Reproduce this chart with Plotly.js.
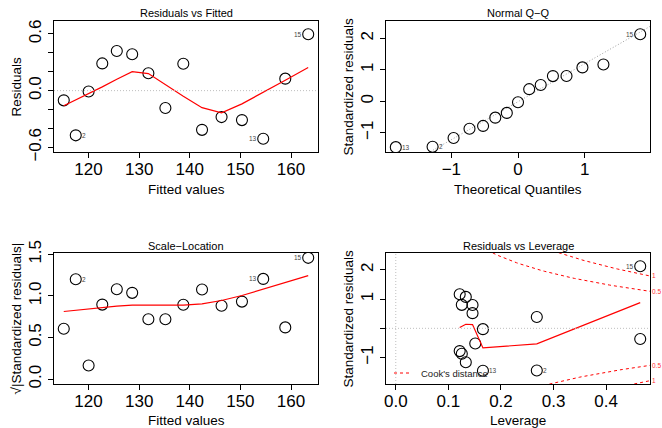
<!DOCTYPE html>
<html><head><meta charset="utf-8">
<script src="https://cdn.plot.ly/plotly-3.0.1.min.js"></script>
<style>body{margin:0;background:#fff}#plot{width:662px;height:428px}</style>
</head><body><div id="plot"></div>
<script>
// ---- data (lm(weight ~ height + I(height^2)), women) ----
const obsId = [1,2,3,4,5,6,7,8,9,10,11,12,13,14,15];
const fitted = [115.10,117.47,120.01,122.71,125.58,128.62,131.82,135.18,138.72,142.42,146.28,150.31,154.51,158.87,163.40];
const residuals = [-0.103,-0.473,-0.009,0.288,0.420,0.385,0.184,-0.183,0.284,-0.415,-0.280,-0.312,-0.509,0.127,0.597];
const stdResid = [-0.366,-1.440,-0.027,0.803,1.166,1.076,0.519,-0.517,0.800,-1.161,-0.779,-0.868,-1.452,0.386,2.125];
const sqrtAbsStdResid = [0.605,1.200,0.164,0.896,1.080,1.037,0.720,0.719,0.895,1.077,0.883,0.932,1.205,0.622,1.458];
const theoQuantiles = [-0.168,-1.282,0,0.728,1.282,0.967,0.341,-0.341,0.524,-0.967,-0.524,-0.728,-1.834,0.168,1.834];
const leverage = [0.4647,0.2681,0.1657,0.1255,0.1215,0.1331,0.1459,0.1511,0.1459,0.1331,0.1215,0.1255,0.1657,0.2681,0.4647];
// red smoothers
const smoothResid = [-0.16,-0.10,-0.03,0.04,0.12,0.20,0.18,0.06,-0.06,-0.18,-0.235,-0.14,-0.02,0.11,0.245];
const smoothScale = [0.813,0.829,0.845,0.861,0.877,0.889,0.887,0.887,0.889,0.905,0.945,1.005,1.085,1.166,1.245];
const smoothLevX = [0.1215,0.1255,0.1331,0.1459,0.1511,0.1657,0.2681,0.4647];
const smoothLevY = [0.03,0.07,0.14,0.13,-0.08,-0.67,-0.53,0.88];
const labelledObs = [2,13,15];
const nParams = 3;
const cookLevels = [0.5, 1];

// tick labels
const ticks1 = [-0.6,-0.4,-0.2,0,0.2,0.4,0.6];
const tickText1 = ["\u22120.6","","","0.0","","","0.6"];
const ticksFit = [120,130,140,150,160];
const ticksQQx = [-1,0,1];
const ticksQQy = [-1,0,1,2];
const tickTextQQy = ["\u22121","0","1","2"];
const ticksQQxText = ["\u22121","0","1"];
const ticksSL = [0,0.5,1,1.5];
const tickTextSL = ["0.0","0.5","1.0","1.5"];
const ticksLevX = [0,0.1,0.2,0.3,0.4];
const tickTextLevX = ["0.0","0.1","0.2","0.3","0.4"];
const ticksLevY = [-1,0,1,2];
const tickTextLevY = ["\u22121","","1","2"];

// ---- layout geometry ----
const W = 662, H = 428;
const FONT = "Liberation Sans, Arial, Helvetica, sans-serif";
const px = v => v / W, py = v => 1 - v / H;
const xDomL = [px(54), px(318)], xDomR = [px(386), px(650)];
const yDomT = [py(152), py(21)], yDomB = [py(384), py(253)];

const ranges = {
  x1: [113.171, 165.335], y1: [-0.6494, 0.7369],
  x2: [-1.981, 1.981],   y2: [-1.606, 2.547],
  x3: [113.171, 165.335], y3: [-0.0583, 1.5161],
  x4: [-0.0186, 0.4833], y4: [-1.904, 2.577]
};

function axis(dom, rng, vals, text, isY) {
  return {
    domain: dom, range: rng, autorange: false,
    showline: true, mirror: true, linecolor: "#000", linewidth: 1,
    ticks: "outside", ticklen: 5, tickwidth: 1, tickcolor: "#000",
    tickvals: vals, ticktext: text,
    tickfont: {family: FONT, size: 17, color: "#000"},
    tickangle: isY ? -90 : 0,
    ticklabelstandoff: isY ? 0 : -3,
    showgrid: false, zeroline: false, fixedrange: true
  };
}

const pointStyle = {symbol: "circle-open", size: 11, color: "#000", line: {width: 1.1, color: "#000"}};
const redLine = {color: "#FF0000", width: 1.2};

const traces = [];
// Panel 1
traces.push({x: fitted, y: residuals, mode: "markers", type: "scatter", marker: pointStyle, xaxis: "x", yaxis: "y", hoverinfo: "skip"});
traces.push({x: fitted, y: smoothResid, mode: "lines", type: "scatter", line: redLine, xaxis: "x", yaxis: "y", hoverinfo: "skip"});
// Panel 2: QQ
function quantile7(arr, p) {
  const s = arr.slice().sort((a, b) => a - b);
  const h = (s.length - 1) * p, lo = Math.floor(h);
  return s[lo] + (h - lo) * (s[Math.min(lo + 1, s.length - 1)] - s[lo]);
}
const sq1 = quantile7(stdResid, 0.25), sq3 = quantile7(stdResid, 0.75);
const slope = (sq3 - sq1) / (0.6745 * 2);
const intercept = (sq1 + sq3) / 2;
traces.push({x: ranges.x2, y: ranges.x2.map(v => intercept + slope * v), mode: "lines", type: "scatter",
  line: {color: "#A0A0A0", width: 1, dash: "1px,2px"}, xaxis: "x2", yaxis: "y2", hoverinfo: "skip"});
traces.push({x: theoQuantiles, y: stdResid, mode: "markers", type: "scatter", marker: pointStyle, xaxis: "x2", yaxis: "y2", hoverinfo: "skip"});
// Panel 3
traces.push({x: fitted, y: sqrtAbsStdResid, mode: "markers", type: "scatter", marker: pointStyle, xaxis: "x3", yaxis: "y3", hoverinfo: "skip"});
traces.push({x: fitted, y: smoothScale, mode: "lines", type: "scatter", line: redLine, xaxis: "x3", yaxis: "y3", hoverinfo: "skip"});
// Panel 4
const hMin = Math.max(...leverage) / 100;
const hMax = ranges.x4[1];
const hh = [];
for (let i = 0; i <= 100; i++) hh.push(hMin + (hMax - hMin) * i / 100);
cookLevels.forEach(c => {
  [1, -1].forEach(sg => {
    traces.push({x: hh, y: hh.map(h => sg * Math.sqrt(c * nParams * (1 - h) / h)), mode: "lines", type: "scatter",
      line: {color: "#FF0000", width: 1, dash: "3px,3px"}, xaxis: "x4", yaxis: "y4", hoverinfo: "skip"});
  });
});
traces.push({x: leverage, y: stdResid, mode: "markers", type: "scatter", marker: pointStyle, xaxis: "x4", yaxis: "y4", hoverinfo: "skip"});
traces.push({x: smoothLevX, y: smoothLevY, mode: "lines", type: "scatter", line: redLine, xaxis: "x4", yaxis: "y4", hoverinfo: "skip"});

// ---- annotations ----
const ann = [];
function txt(x, y, text, size, opts) {
  return Object.assign({xref: "paper", yref: "paper", x: px(x), y: py(y), text: text, showarrow: false,
    font: {family: FONT, size: size, color: "#000"}, xanchor: "center", yanchor: "middle"}, opts || {});
}
// titles
ann.push(txt(186, 13, "Residuals vs Fitted", 11));
ann.push(txt(518, 13, "Normal Q\u2212Q", 11));
ann.push(txt(186, 246, "Scale\u2212Location", 11));
ann.push(txt(518, 246, "Residuals vs Leverage", 11));
// axis titles
ann.push(txt(186, 189, "Fitted values", 13.5));
ann.push(txt(518, 189, "Theoretical Quantiles", 13.5));
ann.push(txt(186, 420, "Fitted values", 13.5));
ann.push(txt(518, 420, "Leverage", 13.5));
ann.push(txt(16, 86.5, "Residuals", 13.5, {textangle: -90}));
ann.push(txt(348, 86.5, "Standardized residuals", 13.5, {textangle: -90}));
ann.push(txt(16, 318.5, "\u221A|Standardized residuals|", 13.5, {textangle: -90}));
ann.push(txt(348, 318.5, "Standardized residuals", 13.5, {textangle: -90}));

// point labels
function pointLabels(xs, ys, xa, ya) {
  const mid = (Math.min(...xs) + Math.max(...xs)) / 2;
  labelledObs.forEach(id => {
    const i = obsId.indexOf(id);
    const right = xs[i] <= mid;
    ann.push({xref: xa, yref: ya, x: xs[i], y: ys[i], text: String(id), showarrow: false,
      font: {family: FONT, size: 6.5, color: "#444444"}, xanchor: right ? "left" : "right", yanchor: "middle",
      xshift: right ? 4 : -4});
  });
}
pointLabels(fitted, residuals, "x", "y");
pointLabels(theoQuantiles, stdResid, "x2", "y2");
pointLabels(fitted, sqrtAbsStdResid, "x3", "y3");
pointLabels(leverage, stdResid, "x4", "y4");

// cook's level labels on right margin
cookLevels.forEach(c => {
  const yv = Math.sqrt(c * nParams * (1 - hMax) / hMax);
  [1, -1].forEach(sg => {
    ann.push({xref: "paper", yref: "y4", x: px(651), y: sg * yv, text: String(c), showarrow: false,
      font: {family: FONT, size: 6.5, color: "#FF3030"}, xanchor: "left", yanchor: "middle", borderpad: 0});
  });
});
// legend
ann.push(txt(419, 373, "Cook's distance", 9.5, {xanchor: "left", font: {family: FONT, size: 9.5, color: "#222"}}));

const shapes = [
  {type: "line", xref: "x domain", yref: "y", x0: 0, x1: 1, y0: 0, y1: 0, line: {color: "#BEBEBE", width: 1, dash: "1px,2px"}},
  {type: "line", xref: "x4 domain", yref: "y4", x0: 0, x1: 1, y0: 0, y1: 0, line: {color: "#BEBEBE", width: 1, dash: "1px,2px"}},
  {type: "line", xref: "x4", yref: "y4 domain", x0: 0, x1: 0, y0: 0, y1: 1, line: {color: "#BEBEBE", width: 1, dash: "1px,2px"}},
  {type: "line", xref: "paper", yref: "paper", x0: px(394), x1: px(409), y0: py(373), y1: py(373), line: {color: "#FF0000", width: 1, dash: "3px,3px"}}
];

const layout = {
  width: W, height: H, margin: {l: 0, r: 0, t: 0, b: 0},
  paper_bgcolor: "#fff", plot_bgcolor: "#fff", showlegend: false,
  font: {family: FONT, color: "#000"},
  xaxis: Object.assign(axis(xDomL, ranges.x1, ticksFit, ticksFit.map(String), false), {anchor: "y"}),
  yaxis: Object.assign(axis(yDomT, ranges.y1, ticks1, tickText1, true), {anchor: "x"}),
  xaxis2: Object.assign(axis(xDomR, ranges.x2, ticksQQx, ticksQQxText, false), {anchor: "y2"}),
  yaxis2: Object.assign(axis(yDomT, ranges.y2, ticksQQy, tickTextQQy, true), {anchor: "x2"}),
  xaxis3: Object.assign(axis(xDomL, ranges.x3, ticksFit, ticksFit.map(String), false), {anchor: "y3"}),
  yaxis3: Object.assign(axis(yDomB, ranges.y3, ticksSL, tickTextSL, true), {anchor: "x3"}),
  xaxis4: Object.assign(axis(xDomR, ranges.x4, ticksLevX, tickTextLevX, false), {anchor: "y4"}),
  yaxis4: Object.assign(axis(yDomB, ranges.y4, ticksLevY, tickTextLevY, true), {anchor: "x4"}),
  annotations: ann, shapes: shapes
};
Plotly.newPlot("plot", traces, layout, {staticPlot: true, displayModeBar: false});
</script></body></html>
